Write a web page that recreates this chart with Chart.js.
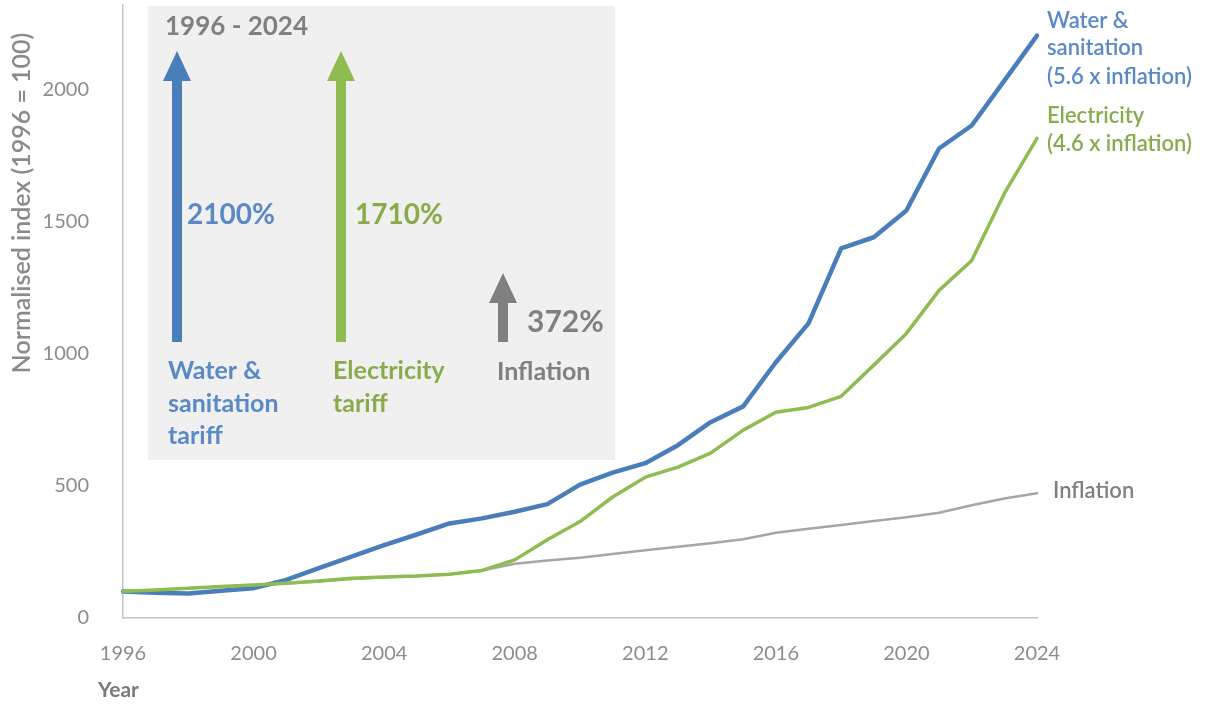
<!DOCTYPE html>
<html>
<head>
<meta charset="utf-8">
<script src="https://cdn.jsdelivr.net/npm/chart.js@4.4.1/dist/chart.umd.min.js"></script>
<style>
  html, body { margin: 0; padding: 0; background: #fff; }
  canvas { display: block; }
</style>
</head>
<body>
<canvas id="tariffChart" width="1205" height="704"></canvas>
<script>
// ---------- data (index, 1996 = 100) ----------
const years = [1996, 1997, 1998, 1999, 2000, 2001, 2002, 2003, 2004, 2005,
               2006, 2007, 2008, 2009, 2010, 2011, 2012, 2013, 2014, 2015,
               2016, 2017, 2018, 2019, 2020, 2021, 2022, 2023, 2024];

const waterSanitation = [100, 96, 93, 103, 113, 144, 189, 232, 276, 316,
                         358, 377, 402, 431, 505, 550, 586, 654, 741, 801,
                         968, 1115, 1399, 1441, 1542, 1777, 1864, 2034, 2204];

const electricity = [100, 106, 113, 119, 125, 132, 140, 150, 155, 159,
                     166, 180, 220, 296, 365, 458, 533, 571, 624, 711,
                     779, 797, 839, 957, 1077, 1240, 1353, 1607, 1815];

const inflation = [100, 106, 113, 118, 124, 130, 138, 148, 154, 159,
                   166, 180, 205, 218, 228, 242, 256, 270, 283, 298,
                   323, 338, 352, 367, 381, 398, 427, 452, 472];

const yTicks = [0, 500, 1000, 1500, 2000];

// colours
const BLUE = '#4a7ebb', GREEN = '#8fbc50', GREY = '#a6a6a6';
const BLUE_TXT = '#5a89c6', GREEN_TXT = '#88ab4c', GREY_TXT = '#808080';
const FONT = 'Lato, "Open Sans", sans-serif';

// ---------- annotations: grey summary box, arrows, line labels ----------
function arrow(ctx, x, yTop, yBottom, color) {
  ctx.fillStyle = color;
  ctx.fillRect(x - 5, yTop + 26, 10, yBottom - yTop - 26);
  ctx.beginPath();
  ctx.moveTo(x, yTop);
  ctx.lineTo(x + 14, yTop + 30);
  ctx.lineTo(x - 14, yTop + 30);
  ctx.closePath();
  ctx.fill();
}

function text(ctx, str, x, y, color, size, weight) {
  ctx.fillStyle = color;
  ctx.font = (weight || 'normal') + ' ' + size + 'px ' + FONT;
  ctx.textAlign = 'left';
  ctx.textBaseline = 'middle';
  ctx.fillText(str, x, y);
}

const annotations = {
  id: 'annotations',
  beforeDatasetsDraw(chart) {
    const ctx = chart.ctx;
    ctx.save();

    // grey box
    ctx.fillStyle = '#f0f0f0';
    ctx.fillRect(148, 6, 467, 454);

    text(ctx, '1996 - 2024', 165, 27, GREY_TXT, 26, 'bold');

    arrow(ctx, 177, 51, 342, BLUE);
    arrow(ctx, 341, 51, 342, GREEN);
    arrow(ctx, 503, 273, 342, '#808080');

    text(ctx, '2100%', 187, 215, BLUE_TXT, 28, 'bold');
    text(ctx, '1710%', 355, 215, GREEN_TXT, 28, 'bold');
    text(ctx, '372%', 527, 322, GREY_TXT, 30, 'bold');

    text(ctx, 'Water &', 168, 371, BLUE_TXT, 25, 'bold');
    text(ctx, 'sanitation', 168, 404, BLUE_TXT, 25, 'bold');
    text(ctx, 'tariff', 168, 436, BLUE_TXT, 25, 'bold');
    text(ctx, 'Electricity', 333, 371, GREEN_TXT, 25, 'bold');
    text(ctx, 'tariff', 333, 404, GREEN_TXT, 25, 'bold');
    text(ctx, 'Inflation', 497, 372, GREY_TXT, 25, 'bold');

    // labels at the line ends
    text(ctx, 'Water &', 1047, 21, BLUE_TXT, 22, '600');
    text(ctx, 'sanitation', 1047, 48, BLUE_TXT, 22, '600');
    text(ctx, '(5.6 x inflation)', 1047, 77, BLUE_TXT, 22, '600');
    text(ctx, 'Electricity', 1047, 116, GREEN_TXT, 22, '600');
    text(ctx, '(4.6 x inflation)', 1047, 144, GREEN_TXT, 22, '600');
    text(ctx, 'Inflation', 1053, 491, GREY_TXT, 22, '600');

    // axis titles
    text(ctx, 'Year', 98, 690, '#7a7a7a', 21, 'bold');
    ctx.save();
    ctx.translate(22, 203);
    ctx.rotate(-Math.PI / 2);
    ctx.fillStyle = '#8a8a8a';
    ctx.font = '600 25px ' + FONT;
    ctx.textAlign = 'center';
    ctx.textBaseline = 'middle';
    ctx.fillText('Normalised index (1996 = 100)', 0, 0);
    ctx.restore();

    ctx.restore();
  }
};

// ---------- chart ----------
const ctx = document.getElementById('tariffChart').getContext('2d');
new Chart(ctx, {
  type: 'line',
  data: {
    labels: years,
    datasets: [
      { label: 'Water & sanitation', data: waterSanitation, borderColor: BLUE, borderWidth: 4.5, order: 2 },
      { label: 'Electricity', data: electricity, borderColor: GREEN, borderWidth: 3.5, order: 1 },
      { label: 'Inflation', data: inflation, borderColor: GREY, borderWidth: 2.5, order: 3 },
    ],
  },
  options: {
    responsive: false,
    devicePixelRatio: 1,
    animation: false,
    elements: {
      point: { radius: 0, hoverRadius: 0 },
      line: { tension: 0, fill: false, borderCapStyle: 'round', borderJoinStyle: 'round' },
    },
    layout: { padding: { top: 5, right: 168, left: 0, bottom: 0 } },
    plugins: {
      legend: { display: false },
      tooltip: { enabled: false },
    },
    scales: {
      x: {
        type: 'category',
        grid: { display: false },
        border: { display: true, color: '#c4c4c4', width: 1.5 },
        ticks: {
          autoSkip: false,
          maxRotation: 0,
          padding: 16,
          color: '#8c8c8c',
          font: { family: FONT, size: 20 },
          callback: function (v, i) { return years[i] % 4 === 0 ? String(years[i]) : ''; },
        },
        afterFit: function (scale) { scale.height = 86; },
      },
      y: {
        min: 0,
        max: 2320,
        grid: { display: false },
        border: { display: true, color: '#c4c4c4', width: 1.5 },
        ticks: {
          padding: 26,
          color: '#8c8c8c',
          font: { family: FONT, size: 20 },
          callback: function (v) { return String(v); },
        },
        afterBuildTicks: function (scale) {
          scale.ticks = yTicks.map(function (v) { return { value: v }; });
        },
        afterFit: function (scale) {
          scale.width = 123;
          scale.paddingTop = 0;
          scale.paddingBottom = 0;
        },
      },
    },
  },
  plugins: [annotations],
});
</script>
</body>
</html>
